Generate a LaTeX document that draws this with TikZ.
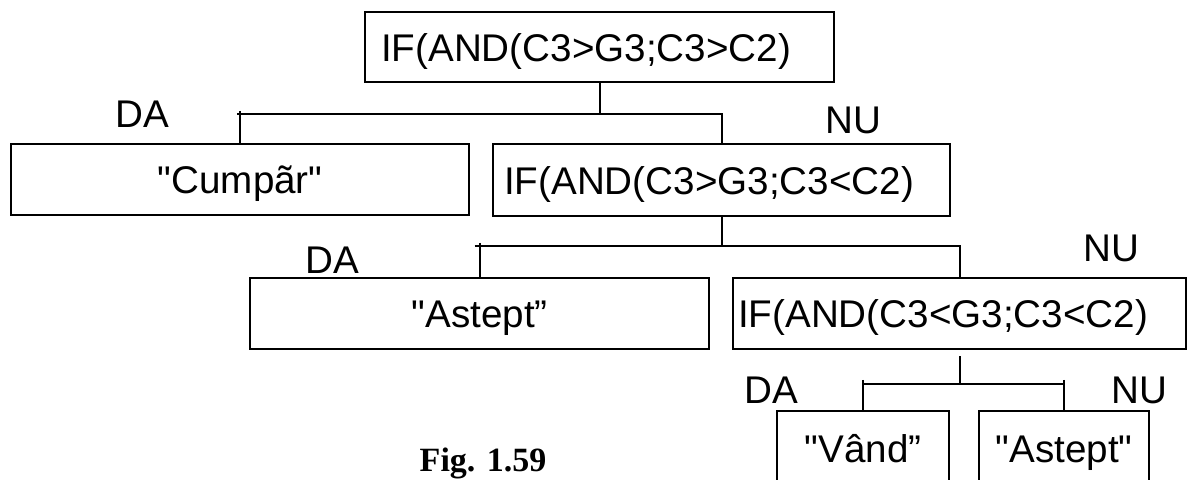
\documentclass[tikz,border=0pt]{standalone}
\usepackage{fontspec}
\setmainfont{Liberation Sans}[Ligatures=TeXOff]
\newfontfamily\figfont{Liberation Serif}

\tikzset{
  box/.style={draw, line width=1.2pt, anchor=north west, inner sep=0pt,
    font=\fontsize{19.3}{22}\selectfont, text height=14.25pt, text depth=0pt},
  ifbox/.style={box, align=left},
  lbl/.style={font=\fontsize{19.3}{22}\selectfont, inner sep=0pt},
  conn/.style={line width=1.2pt}
}

\begin{document}
\begin{tikzpicture}[x=0.5pt, y=-0.5pt]
  \useasboundingbox (0,0) rectangle (1188,480);

  % boxes
  \node[ifbox, text width=218.5pt, inner xsep=8pt, minimum height=35pt] (if1) at (364,11) {IF(AND(C3>G3;C3>C2)};
  \node[box, minimum width=229pt, minimum height=35.5pt] (cumpar) at (10,143) {"Cumpãr"};
  \node[ifbox, text width=217.5pt, inner xsep=5.5pt, minimum height=36pt] (if2) at (492,143) {IF(AND(C3>G3;C3<C2)};
  \node[box, minimum width=229.5pt, minimum height=35.5pt] (ast1) at (249,277) {"Astept”};
  \node[ifbox, text width=221.5pt, inner xsep=2.5pt, minimum height=35.5pt] (if3) at (732,277) {IF(AND(C3<G3;C3<C2)};
  \node[box, minimum width=86pt, minimum height=37pt] (vand) at (776,410) {"Vând”};
  \node[box, minimum width=85pt, minimum height=37pt] (ast2) at (978,410) {"Astept"};

  % bar heights
  \coordinate (y1) at (0,114);
  \coordinate (y2) at (0,246);
  \coordinate (y3) at (0,384);

  % level 1
  \draw[conn] (if1.south) -- (if1.south |- y1);
  \draw[conn] (cumpar.north |- y1) ++(-3,0) -- (if2.north |- y1) -- (if2.north);
  \draw[conn] (cumpar.north |- y1) ++(0,-3) -- (cumpar.north);

  % level 2
  \draw[conn] (if2.south) -- (if2.south |- y2);
  \draw[conn] (ast1.north |- y2) ++(-5,0) -- (if3.north |- y2) -- (if3.north);
  \draw[conn] (ast1.north |- y2) ++(0,-3) -- (ast1.north);

  % level 3
  \draw[conn] (if3.south) ++(0,6) -- (if3.south |- y3);
  \draw[conn] (vand.north |- y3) -- (ast2.north |- y3);
  \draw[conn] (vand.north |- y3) ++(0,-4) -- (vand.north);
  \draw[conn] (ast2.north |- y3) ++(0,-4) -- (ast2.north);

  % labels
  \node[lbl] (da1) at (142,114) {DA};
  \node[lbl] (nu1) at (853,120) {NU};
  \node[lbl] (da2) at (332,260) {DA};
  \node[lbl] (nu2) at (1111,248) {NU};
  \node[lbl] (da3) at (771,390) {DA};
  \node[lbl] (nu3) at (1139,390) {NU};

  \node[anchor=base, inner sep=0pt, font=\figfont\bfseries\fontsize{17}{20}\selectfont] (fig) at (483,471) {Fig. 1.59};
\end{tikzpicture}
\end{document}
